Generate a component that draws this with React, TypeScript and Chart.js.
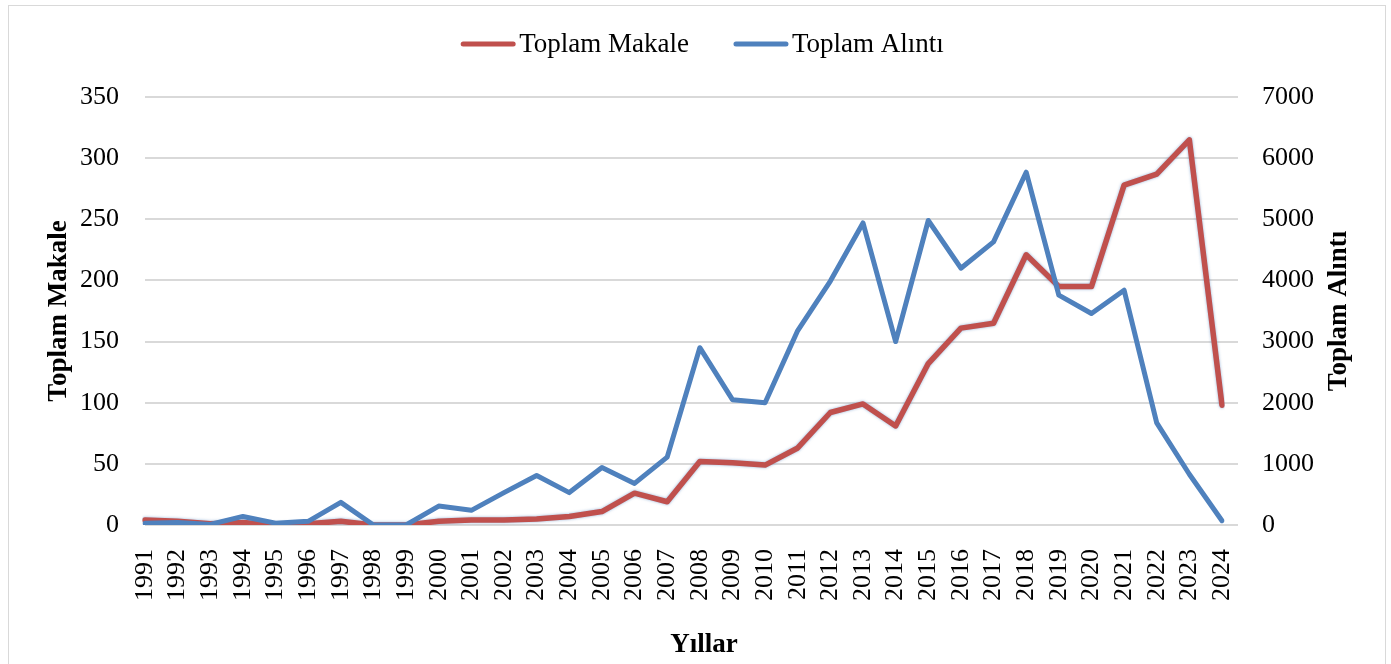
import { useEffect, useRef } from "react";
import { Chart, registerables } from "chart.js";

Chart.register(...registerables);

const years = [
  "1991", "1992", "1993", "1994", "1995", "1996", "1997", "1998", "1999", "2000",
  "2001", "2002", "2003", "2004", "2005", "2006", "2007", "2008", "2009", "2010",
  "2011", "2012", "2013", "2014", "2015", "2016", "2017", "2018", "2019", "2020",
  "2021", "2022", "2023", "2024",
];
const toplamMakale = [
  4, 3, 1, 2, 0, 1, 3, 0, 0, 3, 4, 4, 5, 7, 11, 26, 19, 52, 51, 49, 63, 92, 99, 81,
  132, 161, 165, 221, 195, 195, 278, 287, 315, 98,
];
const toplamAlinti = [
  30, 40, 10, 140, 30, 60, 370, 0, 0, 310, 240, 530, 810, 530, 940, 680, 1110, 2900,
  2050, 2000, 3180, 3990, 4940, 3000, 4980, 4200, 4630, 5770, 3760, 3460, 3840, 1670,
  830, 70,
];
const seriesNames = ["Toplam Makale", "Toplam Alıntı"];
const axisTitles = { left: "Toplam Makale", right: "Toplam Alıntı", bottom: "Yıllar" };

const FONT = "'Times New Roman', 'Liberation Serif', serif";
const RED = "#C0504D";
const BLUE = "#4F81BD";
const GRID = "#D9D9D9";

const CW = 1376;
const CH = 658;

const overlay = {
  id: "overlay",
  beforeDatasetsDraw(chart: any) {
    const { ctx, chartArea, scales } = chart;
    const y = scales.y;
    ctx.save();
    ctx.strokeStyle = GRID;
    ctx.lineWidth = 2;
    y.ticks.forEach((_t: any, i: number) => {
      const py = Math.round(y.getPixelForTick(i));
      ctx.beginPath();
      ctx.moveTo(chartArea.right, py);
      ctx.lineTo(chartArea.right + 16, py);
      ctx.stroke();
    });
    ctx.restore();
  },
  beforeDatasetDraw(chart: any, args: any) {
    if (args.index === 0) {
      const ctx = chart.ctx;
      ctx.save();
      ctx.shadowColor = "rgba(79,129,189,0.6)";
      ctx.shadowBlur = 3;
    }
  },
  afterDatasetDraw(chart: any, args: any) {
    if (args.index === 0) chart.ctx.restore();
  },
  afterDraw(chart: any) {
    const { ctx, chartArea } = chart;
    ctx.save();
    // legend
    ctx.font = `27px ${FONT}`;
    ctx.textBaseline = "middle";
    ctx.textAlign = "left";
    const items = chart.data.datasets.map((d: any) => ({ label: d.label, color: d.borderColor }));
    const lineLen = 54;
    const gap = 4;
    const itemGap = 45;
    const widths = items.map((it: any) => lineLen + gap + ctx.measureText(it.label).width);
    const total = widths.reduce((a: number, b: number) => a + b, 0) + itemGap * (items.length - 1);
    let x = 693.5 - total / 2;
    const ly = 38;
    items.forEach((it: any, i: number) => {
      ctx.strokeStyle = it.color;
      ctx.lineWidth = 5;
      ctx.lineCap = "round";
      ctx.beginPath();
      ctx.moveTo(x + 2, ly);
      ctx.lineTo(x + lineLen - 2, ly);
      ctx.stroke();
      ctx.fillStyle = "#000";
      ctx.fillText(it.label, x + lineLen + gap, ly + 1);
      x += widths[i] + itemGap;
    });
    // right axis title
    ctx.font = `bold 27px ${FONT}`;
    ctx.textAlign = "center";
    ctx.fillStyle = "#000";
    ctx.save();
    ctx.translate(1330, (chartArea.top + chartArea.bottom) / 2);
    ctx.rotate(-Math.PI / 2);
    ctx.fillText(axisTitles.right, 0, 0);
    ctx.restore();
    // bottom title
    ctx.fillText(axisTitles.bottom, 695, 639);
    ctx.restore();
  },
};

export default function App() {
  const ref = useRef<HTMLCanvasElement | null>(null);

  useEffect(() => {
    if (!ref.current) return;
    const tickFont = { family: FONT, size: 26 };
    const plain = (v: any) => String(v);
    const chart = new Chart(ref.current, {
      type: "line",
      data: {
        labels: years,
        datasets: [
          {
            label: seriesNames[0],
            data: toplamMakale,
            borderColor: RED,
            backgroundColor: RED,
            borderWidth: 5.5,
            yAxisID: "y",
            order: 2,
            pointRadius: 0,
            tension: 0,
            borderJoinStyle: "round",
            borderCapStyle: "round",
          },
          {
            label: seriesNames[1],
            data: toplamAlinti,
            borderColor: BLUE,
            backgroundColor: BLUE,
            borderWidth: 5,
            yAxisID: "y1",
            order: 1,
            pointRadius: 0,
            tension: 0,
            borderJoinStyle: "round",
            borderCapStyle: "round",
          },
        ],
      },
      options: {
        responsive: false,
        maintainAspectRatio: false,
        devicePixelRatio: 1,
        animation: false,
        layout: { padding: { top: 91, left: 0, right: 0, bottom: 0 } },
        plugins: {
          legend: { display: false },
          tooltip: { enabled: false },
        },
        scales: {
          x: {
            type: "category",
            offset: false,
            grid: { display: false },
            border: { display: false },
            ticks: {
              autoSkip: false,
              minRotation: 90,
              maxRotation: 90,
              padding: 16,
              color: "#000",
              font: tickFont,
            },
            afterFit: (s: any) => {
              s.height = 139;
            },
          },
          y: {
            position: "left",
            min: 0,
            max: 350,
            ticks: { stepSize: 50, padding: 26, color: "#000", font: tickFont, callback: plain },
            grid: { color: GRID, lineWidth: 2, drawTicks: false },
            border: { display: false },
            title: {
              display: true,
              text: axisTitles.left,
              color: "#000",
              font: { family: FONT, size: 27, weight: "bold" },
              padding: { top: 34, bottom: 0 },
            },
            afterFit: (s: any) => {
              s.width = 136;
            },
          },
          y1: {
            position: "right",
            min: 0,
            max: 7000,
            ticks: { stepSize: 1000, padding: 40, color: "#000", font: tickFont, callback: plain },
            grid: { display: false, drawTicks: false },
            border: { display: false },
            afterFit: (s: any) => {
              s.width = 163;
            },
          },
        },
      } as any,
      plugins: [overlay],
    });
    return () => chart.destroy();
  }, []);

  return (
    <div
      style={{
        position: "fixed",
        left: 8,
        top: 5,
        width: 1378,
        height: 700,
        boxSizing: "border-box",
        border: "1px solid #D9D9D9",
        background: "#fff",
      }}
    >
      <canvas ref={ref} width={CW} height={CH} style={{ display: "block", width: CW, height: CH }} />
    </div>
  );
}
